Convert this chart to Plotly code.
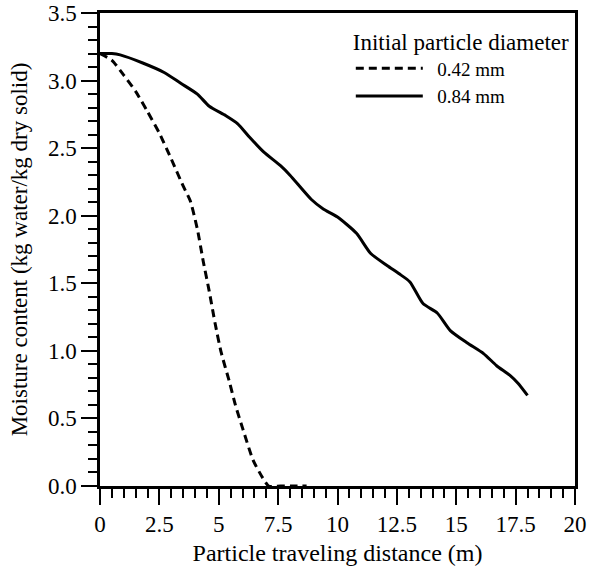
import plotly.graph_objects as go

# 0.42 mm particle (dashed)
x_042 = [0, 0.5, 1.0, 1.5, 2.0, 2.5, 3.0, 3.5, 3.8, 4.1, 4.35, 4.6, 4.85, 5.1, 5.45, 5.7, 6.0, 6.45, 6.85, 7.1, 7.6, 8.2, 8.7]
y_042 = [3.2, 3.15, 3.04, 2.92, 2.77, 2.61, 2.42, 2.22, 2.11, 1.90, 1.66, 1.44, 1.20, 0.99, 0.77, 0.60, 0.43, 0.19, 0.06, 0.0, 0.0, 0.0, 0.0]

# 0.84 mm particle (solid)
x_084 = [0, 0.5, 0.85, 1.8, 2.7, 3.4, 4.1, 4.6, 5.3, 5.8, 6.3, 6.9, 7.6, 8.0, 8.9, 9.4, 10.0, 10.8, 11.4, 12.1, 12.6, 13.05, 13.6, 14.2, 14.75, 15.45, 16.15, 16.7, 17.25, 17.6, 18.0]
y_084 = [3.2, 3.2, 3.19, 3.13, 3.06, 2.98, 2.90, 2.81, 2.74, 2.68, 2.58, 2.47, 2.37, 2.30, 2.12, 2.05, 1.99, 1.87, 1.72, 1.63, 1.57, 1.51, 1.35, 1.28, 1.15, 1.06, 0.98, 0.89, 0.82, 0.76, 0.67]

names = ["0.42 mm", "0.84 mm"]
legend_title = "Initial particle diameter"
x_title = "Particle traveling distance (m)"
y_title = "Moisture content (kg water/kg dry solid)"

FONT = "Liberation Serif, Times New Roman, serif"

fig = go.Figure()
fig.add_trace(go.Scatter(x=x_042, y=y_042, mode="lines", name="\u2002" + names[0],
                         line=dict(color="black", width=3, dash="8px,5px", shape="spline", smoothing=0.6)))
fig.add_trace(go.Scatter(x=x_084, y=y_084, mode="lines", name="\u2002" + names[1],
                         line=dict(color="black", width=3, shape="spline", smoothing=0.6)))

axis_common = dict(
    showline=True, linecolor="black", linewidth=2.5, mirror=True,
    ticks="outside", ticklen=16, tickwidth=2, tickcolor="black",
    showgrid=False, zeroline=False, automargin=False,
    tickfont=dict(family=FONT, size=23, color="black"),
)

fig.update_xaxes(range=[0, 20], dtick=2.5, tick0=0,
                 minor=dict(dtick=0.5, ticks="outside", ticklen=9, tickwidth=2, tickcolor="black", showgrid=False),
                 title=dict(text=x_title, font=dict(family=FONT, size=24, color="black"), standoff=8),
                 **axis_common)
fig.update_yaxes(range=[0, 3.5], dtick=0.5, tick0=0, tickformat=".1f",
                 minor=dict(dtick=0.1, ticks="outside", ticklen=9, tickwidth=2, tickcolor="black", showgrid=False),
                 title=dict(text=y_title, font=dict(family=FONT, size=23, color="black"), standoff=14),
                 **axis_common)

fig.update_layout(
    width=590, height=568,
    margin=dict(l=100, r=15, t=13, b=82),
    paper_bgcolor="white", plot_bgcolor="white",
    font=dict(family=FONT, color="black"),
    showlegend=True,
    legend=dict(
        x=0.528, y=0.986, xanchor="left", yanchor="top",
        bgcolor="rgba(0,0,0,0)", borderwidth=0,
        font=dict(family=FONT, size=19, color="black"),
        title=dict(text=legend_title, font=dict(family=FONT, size=23, color="black"), side="top"),
        itemwidth=67, tracegroupgap=0,
    ),
)

fig.write_html("out.html")
